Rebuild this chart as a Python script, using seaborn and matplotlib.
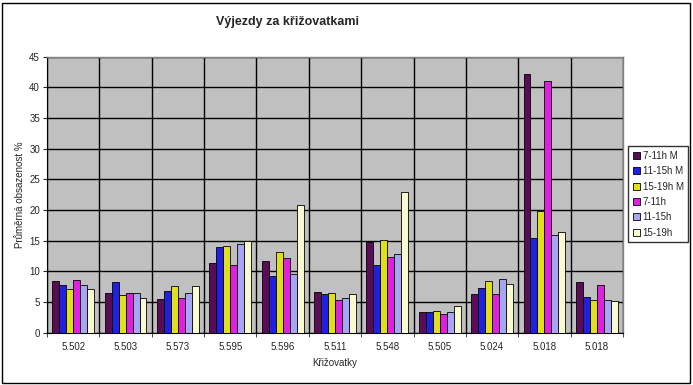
import matplotlib
matplotlib.use("Agg")
import matplotlib.pyplot as plt
import seaborn as sns
import pandas as pd
import numpy as np

categories = ["5.502", "5.503", "5.573", "5.595", "5.596", "5.511", "5.548", "5.505", "5.024", "5.018", "5.018"]
series_names = ["7-11h M", "11-15h M", "15-19h M", "7-11h", "11-15h", "15-19h"]
s_7_11_M = [8.4, 6.5, 5.5, 11.3, 11.7, 6.7, 14.8, 3.3, 6.3, 42.2, 8.3]
s_11_15_M = [7.7, 8.2, 6.8, 13.9, 9.2, 6.25, 11.0, 3.3, 7.3, 15.4, 5.8]
s_15_19_M = [7.2, 6.2, 7.6, 14.2, 13.2, 6.4, 15.1, 3.5, 8.4, 19.8, 5.3]
s_7_11 = [8.6, 6.5, 5.6, 11.1, 12.2, 5.4, 12.4, 3.0, 6.25, 41.0, 7.8]
s_11_15 = [7.7, 6.4, 6.5, 14.4, 9.5, 5.65, 12.9, 3.3, 8.75, 15.9, 5.3]
s_15_19 = [7.2, 5.7, 7.6, 14.9, 20.8, 6.25, 22.9, 4.35, 8.0, 16.4, 5.1]
colors = ["#660066", "#0000FF", "#FFFF00", "#FF00FF", "#9999FF", "#FFFFCC"]

series_values = [s_7_11_M, s_11_15_M, s_15_19_M, s_7_11, s_11_15, s_15_19]
rows = []
for name, vals in zip(series_names, series_values):
    for i, v in enumerate(vals):
        rows.append({"key": str(i), "series": name, "value": v})
df = pd.DataFrame(rows)

sns.set_style("white")
plt.rcParams["font.family"] = ["Liberation Sans", "DejaVu Sans"]

fig = plt.figure(figsize=(6.93, 3.85), dpi=100)
ax = fig.add_axes([47/693, 1-332.7/385, (623-47)/693, (332.7-56.7)/385])
ax.set_facecolor("#C0C0C0")

sns.barplot(data=df, x="key", y="value", hue="series", hue_order=series_names,
            order=[str(i) for i in range(len(categories))],
            palette=dict(zip(series_names, colors)), edgecolor="black",
            linewidth=0.6, width=0.8, ax=ax, legend=True, zorder=3)

ax.set_ylim(0, 45)
ax.set_xlim(-0.5, len(categories) - 0.5)
ax.set_yticks(np.arange(0, 46, 5))
ax.set_xticks(range(len(categories)))
ax.set_xticklabels(categories)
ax.set_xticks(np.arange(-0.5, len(categories), 1), minor=True)
ax.grid(True, which="major", axis="y", color="black", linewidth=1.0, zorder=1)
ax.grid(True, which="minor", axis="x", color="black", linewidth=1.0, zorder=1)
ax.set_axisbelow(True)
ax.tick_params(axis="x", which="major", length=0, pad=7, labelsize=7)
ax.tick_params(axis="x", which="minor", length=3, direction="out", bottom=True)
ax.tick_params(axis="y", length=3, direction="out", left=True, labelsize=7, pad=2)
for side in ["top", "right"]:
    ax.spines[side].set_color("#808080")
    ax.spines[side].set_linewidth(1.0)
ax.spines["left"].set_color("black")
ax.spines["bottom"].set_color("black")

ax.set_xlabel("Křižovatky", fontsize=7, labelpad=4)
ax.set_ylabel("Průměrná obsazenost %", fontsize=7, labelpad=3)

handles, labels = ax.get_legend_handles_labels()
ax.legend_.remove()
leg = fig.legend(handles, labels, loc="upper left", bbox_to_anchor=(628/693, 1-146/385),
                 frameon=True, fancybox=False, edgecolor="black", fontsize=7,
                 handlelength=0.7, handleheight=0.7, handletextpad=0.3,
                 labelspacing=0.55, borderpad=0.5, borderaxespad=0)
leg.get_frame().set_linewidth(1.0)

fig.text(287/693, 1-22/385, "Výjezdy za křižovatkami", ha="center", va="center",
         fontsize=9, fontweight="bold")

border = plt.Rectangle((2/693, 2/385), 688/693, 380/385, transform=fig.transFigure,
                       fill=False, edgecolor="black", linewidth=1.0)
fig.add_artist(border)

fig.savefig("out.png", dpi=100)
